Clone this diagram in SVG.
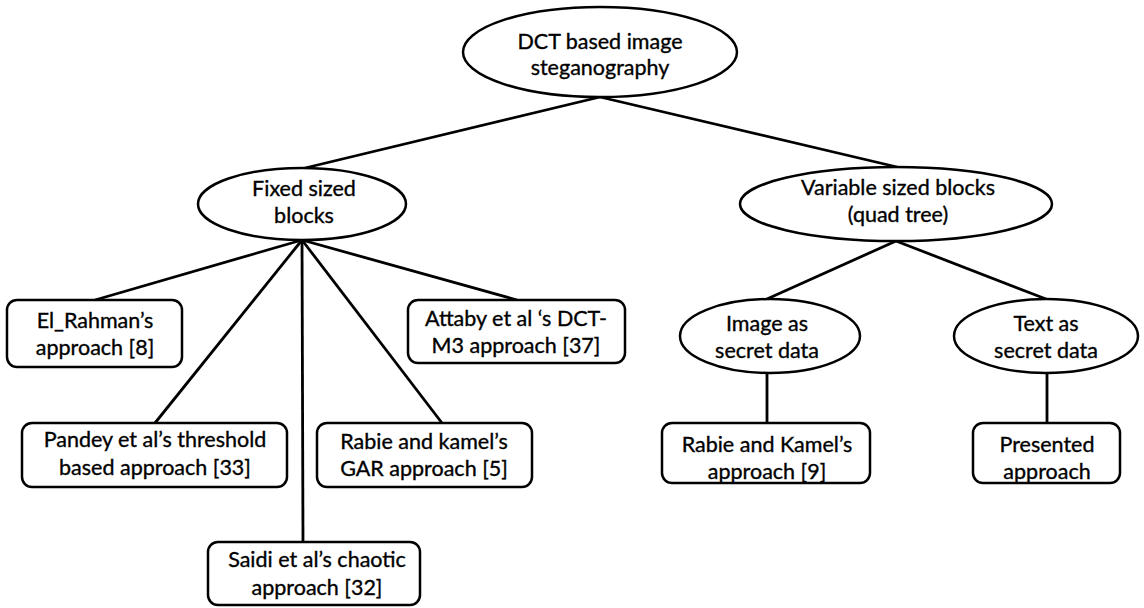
<svg xmlns="http://www.w3.org/2000/svg" width="1144" height="608" viewBox="0 0 1144 608">
<style>
.s{fill:#fff;stroke:#000;stroke-width:2.5}
.c line{stroke:#000;stroke-width:2.8}
text{font-family:"Lato","Open Sans",sans-serif;font-size:21.5px;fill:#000;stroke:#000;stroke-width:0.35;text-anchor:middle}
</style>
<rect width="1144" height="608" fill="#fff"/>
<g class="c" id="connectors">
<line x1="600" y1="97" x2="305" y2="168"/>
<line x1="600" y1="97" x2="897" y2="167"/>
<line x1="302" y1="240" x2="95" y2="300"/>
<line x1="302" y1="240" x2="155" y2="423"/>
<line x1="302" y1="240" x2="303" y2="542"/>
<line x1="302" y1="240" x2="442" y2="423"/>
<line x1="302" y1="240" x2="517" y2="300"/>
<line x1="896" y1="241" x2="767" y2="299"/>
<line x1="896" y1="241" x2="1046" y2="299"/>
<line x1="767" y1="373" x2="767" y2="423"/>
<line x1="1047" y1="373" x2="1047" y2="423"/>
</g>
<g id="root"><ellipse class="s" cx="600" cy="52" rx="137" ry="45"/><text x="600" y="49">DCT based image</text><text x="600" y="75">steganography</text></g>
<g id="fixed"><ellipse class="s" cx="302" cy="204" rx="104" ry="36"/><text x="304" y="196">Fixed sized</text><text x="304" y="223">blocks</text></g>
<g id="variable"><ellipse class="s" cx="896" cy="204" rx="156" ry="37"/><text x="898" y="195">Variable sized blocks</text><text x="898" y="222">(quad tree)</text></g>
<g id="image"><ellipse class="s" cx="770" cy="336" rx="90" ry="37"/><text x="767" y="331">Image as</text><text x="767" y="358">secret data</text></g>
<g id="textsecret"><ellipse class="s" cx="1046" cy="336" rx="92" ry="37"/><text x="1046" y="331">Text as</text><text x="1046" y="358">secret data</text></g>
<g id="elrahman"><rect class="s" x="7" y="300" width="175" height="67" rx="10"/><text x="95" y="328">El_Rahman’s</text><text x="95" y="355">approach [8]</text></g>
<g id="attaby"><rect class="s" x="408" y="300" width="217" height="63" rx="10"/><text x="516" y="326">Attaby et al ‘s DCT-</text><text x="516" y="353">M3 approach [37]</text></g>
<g id="pandey"><rect class="s" x="22" y="423" width="265" height="64" rx="10"/><text x="155" y="447">Pandey et al’s threshold</text><text x="155" y="475">based approach [33]</text></g>
<g id="rabiegar"><rect class="s" x="317" y="423" width="215" height="64" rx="10"/><text x="424" y="449">Rabie and kamel’s</text><text x="424" y="476">GAR approach [5]</text></g>
<g id="saidi"><rect class="s" x="208" y="542" width="212" height="63" rx="10"/><text x="317" y="567">Saidi et al’s chaotic</text><text x="317" y="595">approach [32]</text></g>
<g id="rabiekamel"><rect class="s" x="662" y="423" width="208" height="60" rx="10"/><text x="767" y="452">Rabie and Kamel’s</text><text x="767" y="479">approach [9]</text></g>
<g id="presented"><rect class="s" x="973" y="423" width="147" height="60" rx="10"/><text x="1047" y="452">Presented</text><text x="1047" y="479">approach</text></g>
</svg>
